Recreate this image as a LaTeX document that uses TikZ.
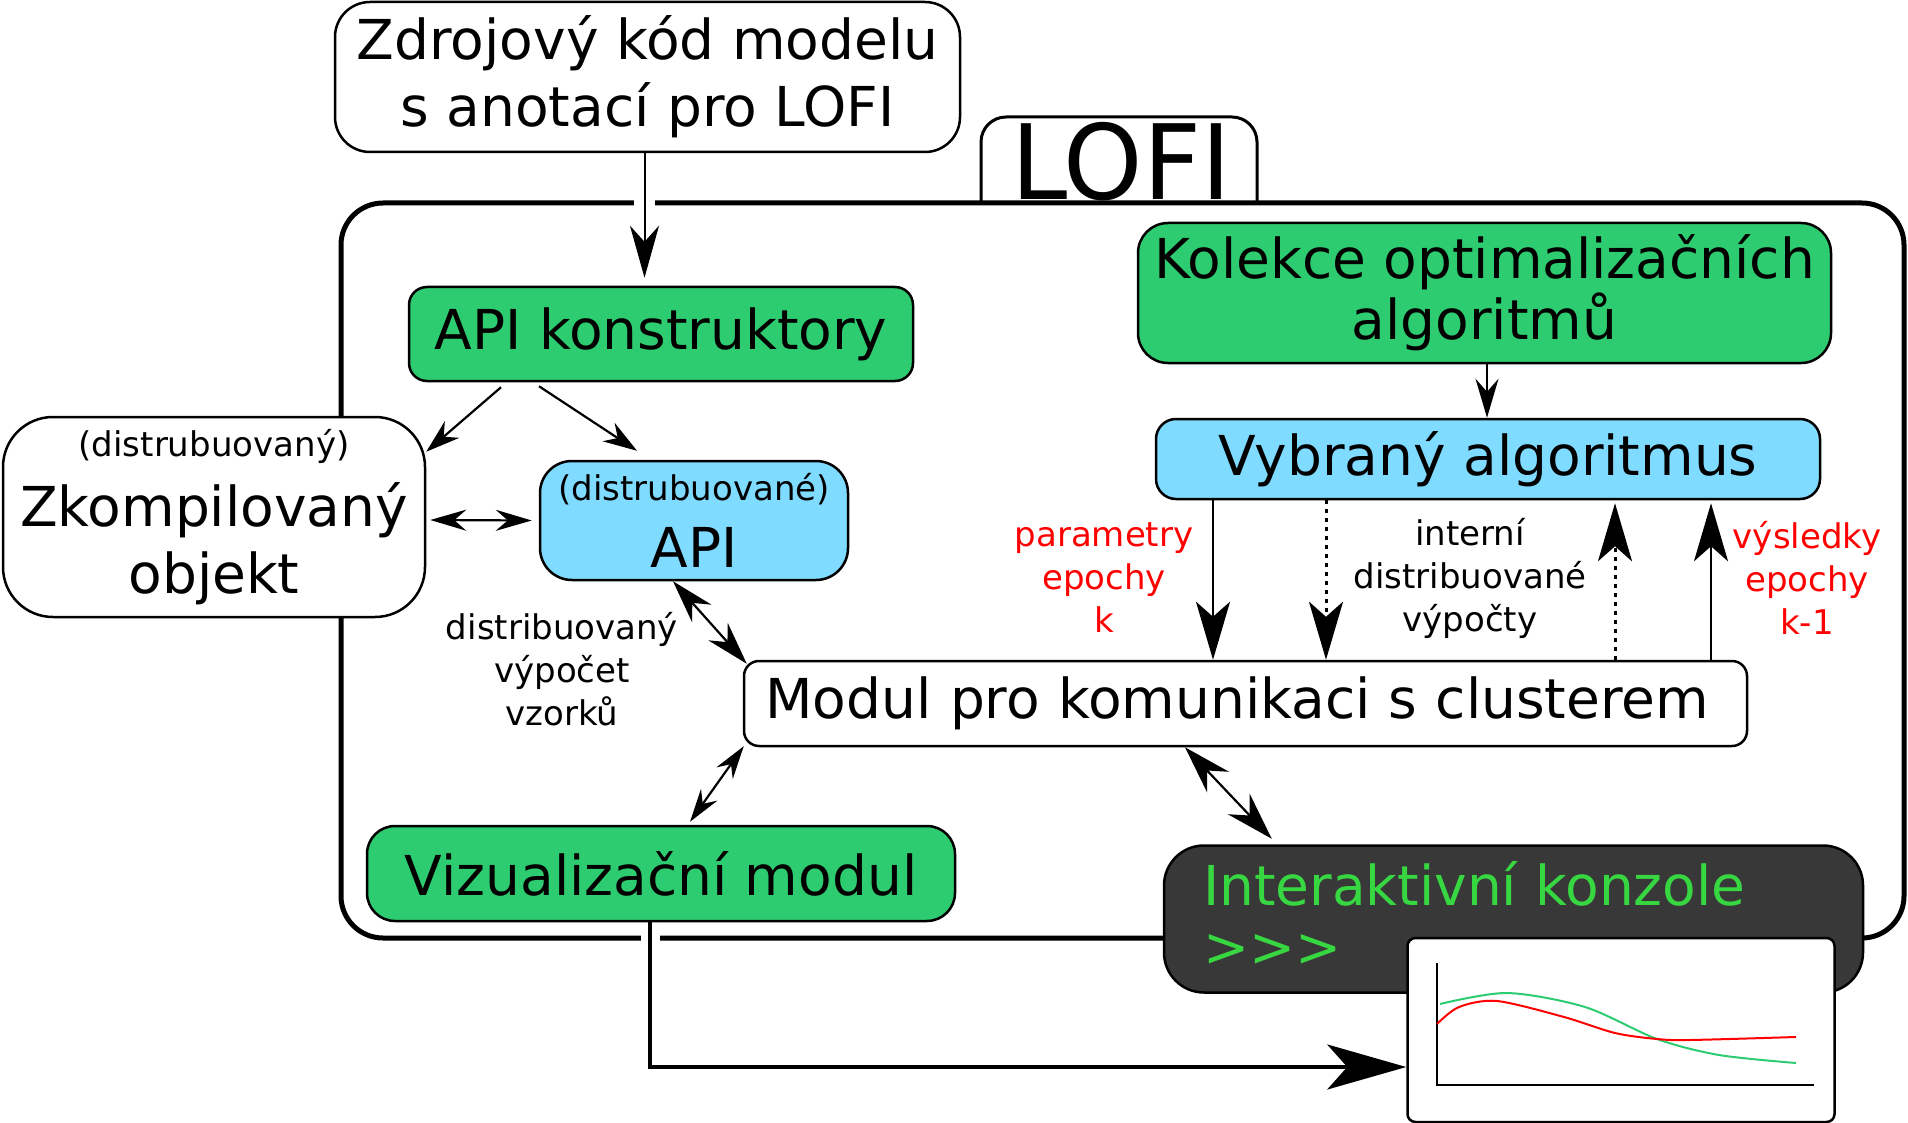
\documentclass[tikz,border=0pt]{standalone}
\usepackage{fontspec}
\setmainfont{DejaVu Sans}
\usetikzlibrary{arrows.meta}
\definecolor{zelena}{RGB}{46,204,113}
\definecolor{modra}{RGB}{127,219,255}
\definecolor{konzole}{RGB}{56,56,56}
\definecolor{prompt}{RGB}{55,215,65}

\begin{document}
\begin{tikzpicture}[x=1pt,y=-1pt,
    box/.style={draw,line width=2.5pt,rounded corners=#1,inner sep=0pt,align=center,
      font=\fontsize{55pt}{67pt}\selectfont},
    box/.default=20pt,
    popis/.style={inner sep=0pt,align=center,font=\fontsize{34pt}{43pt}\selectfont},
    hrot/.style n args={3}{>={Stealth[length=#1,width=#2,inset=#3]}},
    halo/.style={draw=white,line width=#1},
    tecky/.style={dash pattern=on 4pt off 5pt}]

    \fill[white] (0,0) rectangle (1908,1123);
    \useasboundingbox (0,0) rectangle (1908,1123);

    % ramec LOFI
    \draw[line width=5pt,rounded corners=42pt] (341,203) rectangle (1904,938);
    \draw[line width=3pt,rounded corners=25pt] (981,203) -- (981,117) -- (1257,117) -- (1257,203);
    \node[anchor=base,inner sep=0pt,font=\fontsize{104pt}{110pt}\selectfont] (lofi) at (1121,200) {\scalebox{0.97}[1]{LOFI}};

    % bloky
    \node[box=35pt,minimum width=625pt,minimum height=150pt] (src) at (647.5,77) {Zdrojový kód modelu\\s anotací pro LOFI};
    \node[box=18pt,fill=zelena,minimum width=504pt,minimum height=94pt] (apik) at (661,334) {API konstruktory};
    \node[box=30pt,fill=zelena,minimum width=693pt,minimum height=140pt,font=\fontsize{55pt}{61pt}\selectfont] (kol) at (1484.5,293) {Kolekce optimalizačních\\algoritmů};
    \node[box=20pt,fill=modra,minimum width=664pt,minimum height=80pt] (vyb) at (1488,459) {Vybraný algoritmus};
    \node[box=50pt,fill=white,minimum width=422pt,minimum height=200pt] (zko) at (214,517) {{\fontsize{34pt}{43pt}\selectfont (distrubuovaný)}\\[3pt]Zkompilovaný\\objekt};
    \node[box=32pt,fill=modra,minimum width=308pt,minimum height=119pt] (api) at (694,520.5) {{\fontsize{34pt}{43pt}\selectfont (distrubuované)}\\API};
    \node[box=15pt,fill=white,align=left,text width=960pt,minimum width=1003pt,minimum height=85pt] (mod) at (1245.5,703.5) {Modul pro komunikaci s clusterem};
    \node[box=28pt,fill=zelena,minimum width=588pt,minimum height=95pt] (viz) at (661,873.5) {Vizualizační modul};
    \node[box=40pt,fill=konzole,text=prompt,align=left,text width=621pt,minimum width=699pt,minimum height=147pt,
      font=\fontsize{55pt}{61pt}\selectfont] (kon) at (1513.5,919) {Interaktivní konzole\\>{}>{}>\rule[-10pt]{0pt}{1pt}};
    \node[box=8pt,fill=white,minimum width=427pt,minimum height=184pt] (graf) at (1621,1030) {};

    % graf
    \draw[line width=2pt] (1437,963) -- (1437,1085) -- (1814,1085);
    \draw[zelena,line width=2pt] plot[smooth] coordinates {(1440,1004) (1507,993) (1585,1007) (1657,1039) (1719,1055) (1796,1063)};
    \draw[red,line width=2pt] plot[smooth] coordinates {(1437,1024) (1459,1007) (1497,1001) (1564,1017) (1615,1033) (1657,1039) (1690,1040) (1796,1037)};

    % popisky
    \node[popis,text=red] (par) at (1104,578) {parametry\\epochy\\k};
    \node[popis] (int) at (1470,578) {interní\\distribuované\\výpočty};
    \node[popis,text=red] (vys) at (1807,578) {výsledky\\epochy\\k-1};
    \node[popis] (dvv) at (562,669) {distribuovaný\\výpočet\\vzorků};

    % sipky
    \draw[halo=21pt] ([xshift=-3pt,yshift=-41pt]src.south) -- ++(0,20);
    \draw[line width=2pt,hrot={52pt}{29pt}{16pt},->,shorten >=8pt] ([xshift=-3pt]src.south) -- ([xshift=-3pt]src.south |- apik.north);
    \draw[line width=2.2pt,hrot={34pt}{22pt}{11pt},->] ([xshift=-160pt,yshift=-5pt]apik.south) -- ([yshift=-36pt]zko.north east);
    \draw[line width=2.2pt,hrot={34pt}{22pt}{11pt},->] ([xshift=-122pt,yshift=-4pt]apik.south) -- ([xshift=-57pt,yshift=9pt]api.north);
    \draw[line width=2.2pt,hrot={36pt}{21pt}{12pt},<->] ([xshift=4pt,yshift=-3pt]zko.east) -- ([xshift=-7pt]api.west);
    \draw[line width=2.2pt,hrot={43pt}{26pt}{14pt},<->] ([xshift=-21pt]api.south) -- ([xshift=4pt,yshift=-4pt]mod.north west);
    \draw[line width=2.2pt,hrot={33pt}{20pt}{11pt},<->] ([xshift=1pt,yshift=1pt]mod.south west) -- ([xshift=29pt,yshift=3pt]viz.north);
    \draw[line width=2.2pt,hrot={48pt}{30pt}{16pt},<->] ([xshift=-60.5pt]mod.south) -- ([xshift=109pt,yshift=5.5pt]kon.north west);
    \draw[line width=2pt,hrot={39pt}{23pt}{13pt},->] ([xshift=2.5pt]kol.south) -- ([xshift=2.5pt]kol.south |- vyb.north);

    \draw[line width=2.8pt,hrot={58pt}{34pt}{15pt},->] ([xshift=-275pt]vyb.south) -- ([xshift=-275pt]vyb.south |- mod.north);
    \draw[line width=3pt,tecky,hrot={58pt}{34pt}{15pt},->] ([xshift=-162pt]vyb.south) -- ([xshift=-162pt]vyb.south |- mod.north);
    \draw[line width=3pt,tecky,hrot={58pt}{34pt}{15pt},->,shorten >=3pt] ([xshift=127pt]vyb.south |- mod.north) -- ([xshift=127pt]vyb.south);
    \draw[line width=2.8pt,hrot={58pt}{34pt}{15pt},->,shorten >=3pt] ([xshift=223pt]vyb.south |- mod.north) -- ([xshift=223pt]vyb.south);

    \draw[halo=19pt] ([xshift=-11pt,yshift=-9pt]viz.south) -- ++(0,16);
    \draw[line width=4pt,hrot={79pt}{45pt}{20pt},->] ([xshift=-11pt]viz.south) |- ([yshift=-37pt]graf.west);

\end{tikzpicture}
\end{document}
